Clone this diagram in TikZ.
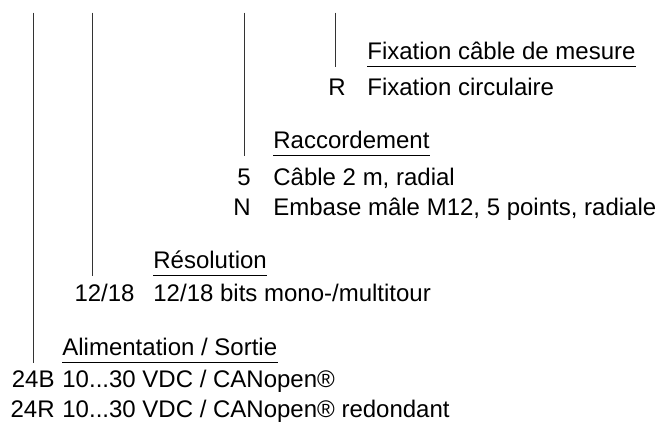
\documentclass[tikz,border=0pt]{standalone}
\usepackage{fontspec}
\setmainfont{Liberation Sans}
\usetikzlibrary{calc}

\begin{document}
\begin{tikzpicture}[
    x=0.5pt, y=-0.5pt,
    txt/.style={inner sep=0pt, font=\fontsize{12}{14}\selectfont},
    head/.style={txt, anchor=base west},
    code/.style={txt, anchor=base east},
    desc/.style={txt, anchor=base west},
    rule/.style={line width=0.6pt},
    stem/.style={line width=0.5pt, black!80}
]
    \useasboundingbox (0,0) rectangle (660,425);

    % Fixation cable de mesure
    \node[head] (hfix) at (367,59) {Fixation câble de mesure};
    \node[code] (cR) at (346,95) {R};
    \node[desc] (dR) at (367,95) {Fixation circulaire};

    % Raccordement
    \node[head] (hrac) at (273,148) {Raccordement};
    \node[code] (c5) at (251,185) {5};
    \node[desc] (d5) at (273,185) {Câble 2 m, radial};
    \node[code] (cN) at (251,215) {N};
    \node[desc] (dN) at (273,215) {Embase mâle M12, 5 points, radiale};

    % Resolution
    \node[head] (hres) at (153,268) {Résolution};
    \node[code] (c12) at (135,301) {12/18};
    \node[desc] (d12) at (153,301) {12/18 bits mono-/multitour};

    % Alimentation
    \node[head] (hali) at (62,355) {Alimentation / Sortie};
    \node[code] (c24B) at (55,387) {24B};
    \node[desc] (d24B) at (62,387) {10...30 VDC / CANopen®};
    \node[code] (c24R) at (55,417) {24R};
    \node[desc] (d24R) at (62,417) {10...30 VDC / CANopen® redondant};

    % underlines
    \draw[rule] ($(hfix.base west)+(0,7.5)$) coordinate (ufix) -- ($(hfix.base east)+(0,7.5)$);
    \draw[rule] ($(hrac.base west)+(0,7.5)$) coordinate (urac) -- ($(hrac.base east)+(0,7.5)$);
    \draw[rule] ($(hres.base west)+(0,7.5)$) coordinate (ures) -- ($(hres.base east)+(0,7.5)$);
    \draw[rule] ($(hali.base west)+(0,7.5)$) coordinate (uali) -- ($(hali.base east)+(0,7.5)$);

    % stems
    \coordinate (tfix) at (335,12.5);
    \coordinate (trac) at (244,12.5);
    \coordinate (tres) at (92.5,12.5);
    \coordinate (tali) at (33,12.5);
    \draw[stem] (tfix) -- (tfix |- ufix);
    \draw[stem] (trac) -- (trac |- urac);
    \draw[stem] (tres) -- (tres |- ures);
    \draw[stem] (tali) -- (tali |- uali);
\end{tikzpicture}
\end{document}
